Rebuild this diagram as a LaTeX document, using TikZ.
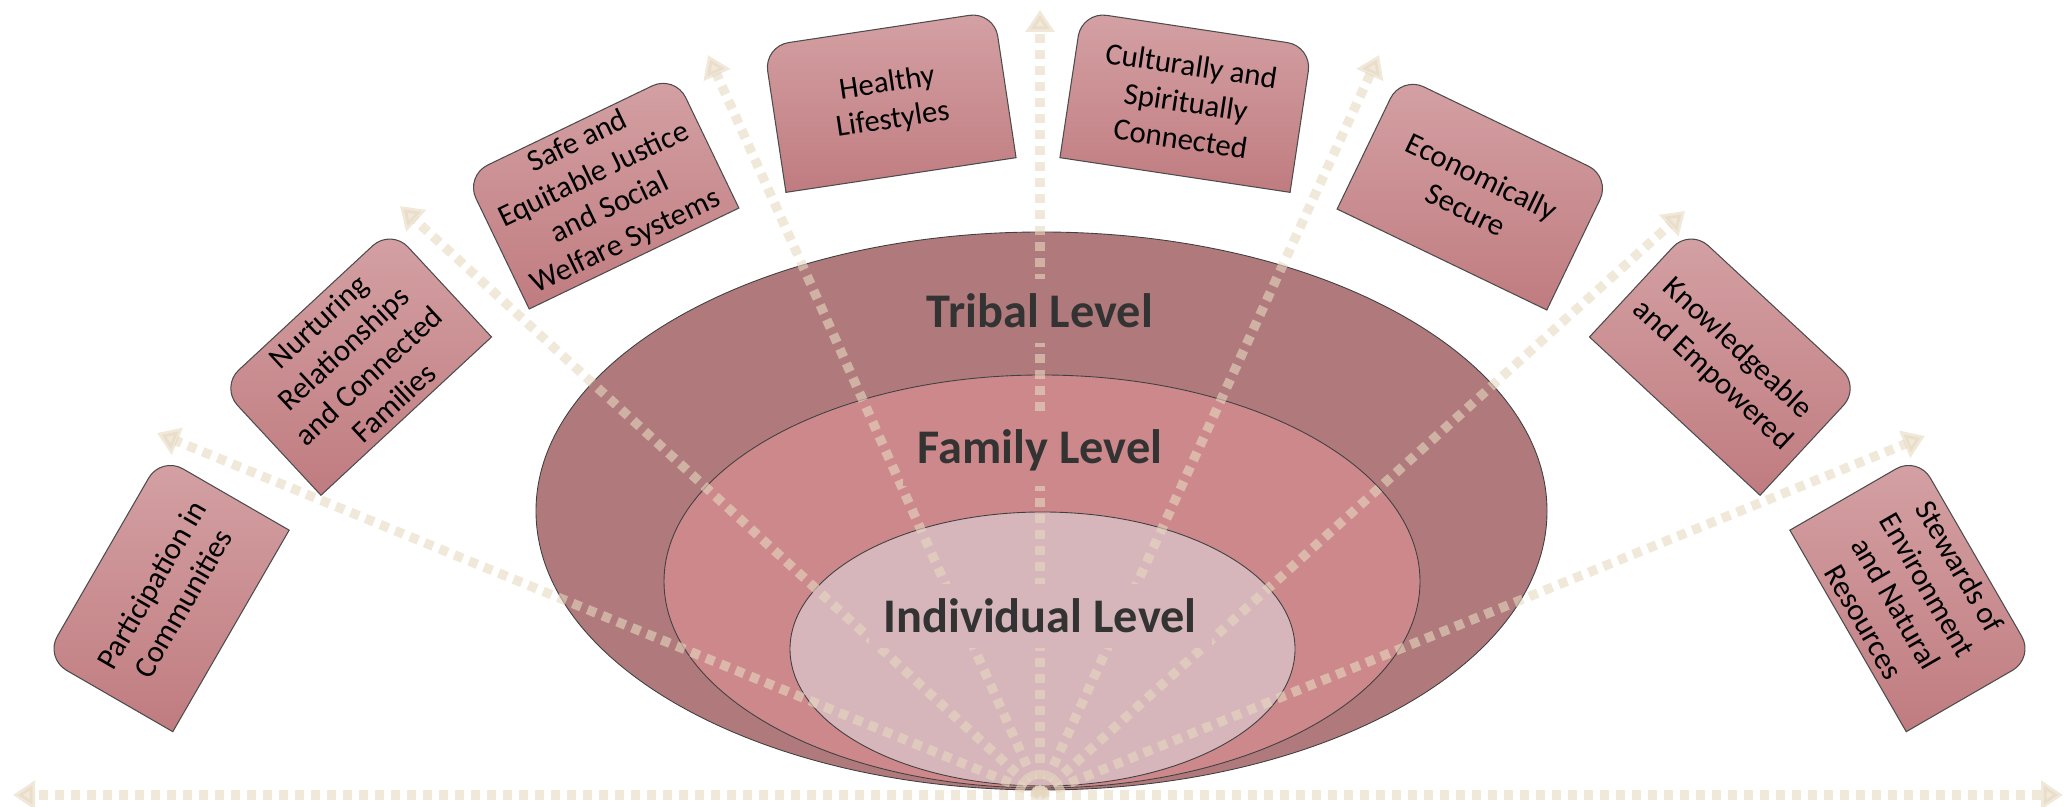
\documentclass[tikz,border=0pt]{standalone}
\usepackage{fontspec}
\setmainfont{Carlito}
\usepackage{tikz}
\usetikzlibrary{arrows.meta,backgrounds}

\definecolor{tribal}{RGB}{176,122,124}
\definecolor{family}{RGB}{205,136,140}
\definecolor{individual}{RGB}{214,182,186}
\definecolor{trailcol}{RGB}{230,216,192}
\definecolor{boxtop}{RGB}{212,161,164}
\definecolor{boxbot}{RGB}{192,124,128}
\definecolor{lvltext}{RGB}{51,51,51}

\tikzset{
  ring/.style={draw=black!75, line width=0.5pt, fill=#1},
  trail/.style={line width=0.19cm, draw=trailcol, opacity=0.6,
    dash pattern=on 0.18cm off 0.14cm, -{Triangle[length=0.44cm,width=0.56cm]}},
  lvllabel/.style={fill=#1, text=lvltext, inner sep=0.3cm,
    font=\fontsize{27.5}{33}\selectfont\bfseries},
  goal/.style={rotate=#1, minimum width=4.64cm, minimum height=2.94cm,
    inner sep=0pt, align=center, font=\fontsize{17.5}{21}\selectfont},
  goalbox/.style={draw=black!70, line width=0.6pt, top color=boxtop, bottom color=boxbot}
}

\begin{document}
\begin{tikzpicture}
\useasboundingbox (0,0) rectangle (41.28,16.14);

% nested levels
\draw[ring=tribal] (20.83,5.92) ellipse [x radius=10.11, y radius=5.58];
\draw[ring=family] (20.84,4.51) ellipse [x radius=7.56, y radius=4.13];
\draw[ring=individual] (20.85,3.16) ellipse [x radius=5.05, y radius=2.74];

% radiating arrows
\coordinate (O) at (20.8,0.24);
\coordinate (t0) at (0.26,0.24);
\coordinate (t1) at (3.14,7.48);
\coordinate (t2) at (8.0,12.02);
\coordinate (t3) at (14.16,15.04);
\coordinate (t4) at (20.8,15.94);
\coordinate (t5) at (27.58,15.04);
\coordinate (t6) at (33.7,11.92);
\coordinate (t7) at (38.5,7.42);
\coordinate (t8) at (41.26,0.24);
\draw[trail] (O) -- (t0);
\draw[trail] (O) -- (t1);
\draw[trail] (O) -- (t2);
\draw[trail] (O) -- (t3);
\draw[trail] (O) -- (t4);
\draw[trail] (O) -- (t5);
\draw[trail] (O) -- (t6);
\draw[trail] (O) -- (t7);
\draw[trail] (O) -- (t8);

\node[lvllabel=tribal] (tribe) at (20.8,9.92) {Tribal Level};
\node[lvllabel=family] (fam) at (20.8,7.14) {Family Level};
\node[lvllabel=individual] (indiv) at (20.8,3.82) {Individual Level};

% outcome boxes
\node[goal=60] (part) at (3.34,4.26) {Participation in\\Communities};
\node[goal=42.86] (nurt) at (7.12,8.9) {Nurturing\\Relationships\\and Connected\\Families};
\node[goal=25.71] (safe) at (12.04,12.3) {Safe and\\Equitable Justice\\and Social\\Welfare Systems};
\node[goal=8.57] (heal) at (17.8,14.1) {Healthy\\Lifestyles};
\node[goal=-8.57] (cult) at (23.72,14.1) {Culturally and\\Spiritually\\Connected};
\node[goal=-25.71] (econ) at (29.48,12.28) {Economically\\Secure};
\node[goal=-42.86] (know) at (34.5,8.9) {Knowledgeable\\and Empowered};
\node[goal=-60] (stew) at (38.24,4.26) {Stewards of\\Environment\\and Natural\\Resources};

\begin{scope}[on background layer]
\foreach \n in {part,nurt,safe,heal,cult,econ,know,stew}
  \draw[goalbox] (\n.south west) [rounded corners=0.5cm] -- (\n.north west)
    -- (\n.north east) [sharp corners] -- (\n.south east) -- cycle;
\end{scope}
\end{tikzpicture}
\end{document}
